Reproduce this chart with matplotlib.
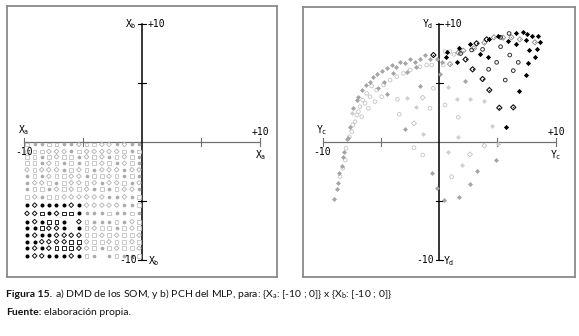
import matplotlib
matplotlib.use("Agg")
import matplotlib.pyplot as plt

# ---------------- Panel a) SOM lattice (Xa, Xb) ----------------
col_x = [-9.75, -9.1, -8.5, -7.9, -7.25, -6.6, -6.0, -5.35,
         -4.7, -4.05, -3.4, -2.8, -2.15, -1.5, -0.85, -0.25]
row_y = [-0.2, -0.8, -1.25, -1.8, -2.35, -2.9, -3.45, -4.0, -4.65,
         -5.35, -6.05, -6.75, -7.3, -7.9, -8.45, -9.0, -9.65]
# codes: o gray filled circle, s light open square, d gray open diamond,
#        B black filled circle, D black open diamond, S black open square, . none
lattice_rows = [
    "soossoodssddodoo",
    "sssdddosdddddsos",
    "ssosdssodsdosdso",
    "ssodsosossdsodso",
    "dsdddosdsodddodd",
    "osodssddossdsoso",
    "oddsosddsdoddsod",
    "ossodsdsdososddo",
    "sdossddddddoodos",
    "BDBBBBDBdddddoos",
    "DDSBDSSBooosooso",
    "BDBSSB.Dsooosods",
    "BBSDDB.Bsdssosds",
    "BDBBDDDDssdsdssd",
    "BBDDDDSSdssdssds",
    "BDBDSSSDdsosdssd",
    "BDDBBBDBso.osoos",
]

# ---------------- Panel b) MLP outputs (Yc, Yd) ----------------
k_x = [0.63, 0.54, 1.69, 1.49, 2.63, 3.49, 4.2, 4.3, 5.07, 5.93, 6.63, 7.2, 7.54, 8.0,
       8.5, 8.7, 8.37, 7.74, 6.63, 7.43, 8.22, 7.65, 7.45, 6.82, 5.73]
k_y = [7.6, 7.18, 8.0, 6.75, 8.28, 7.43, 7.18, 8.76, 8.98, 8.59, 9.27, 9.29, 9.15, 8.98,
       8.98, 8.45, 7.85, 7.8, 8.28, 8.64, 7.18, 6.67, 5.65, 4.32, 1.27]
kd_x = [-0.51, 2.86, 3.72, 4.3, 5.16, 6.36, 3.2, 4.07, 2.26]
kd_y = [7.37, 6.16, 5.34, 4.4, 2.9, 2.94, 8.36, 8.7, 7.0]
ko_x = [1.83, 2.78, 4.24, 4.93, 5.27, 5.27, 6.0, 5.67, 6.06, 6.79, 6.36, 3.72]
ko_y = [7.5, 7.8, 6.16, 6.75, 8.08, 8.87, 9.2, 5.25, 7.37, 6.75, 6.05, 7.85]
gd_x = [1.63, 0.92, 2.98, 4.7, 5.49, 6.2, 6.93, 8.22, 3.87, 2.06]
gd_y = [7.57, 6.6, 7.94, 8.87, 8.84, 8.87, 8.7, 8.45, 8.42, 7.74]
g_x = [-1.23, -0.8, -1.66, -2.09, -2.51, -2.95, -3.38, -3.72, -4.1, -4.53, -4.96, -5.33,
       -5.67, -5.96, -6.3, -6.68, -6.96, -7.1, -7.39, -7.68, -7.82, -4.73, -4.53, -5.24,
       -3.95, -2.8, -2.0, -0.23, 0.2,
       -1.66, 0.06, 2.2, 4.91, 3.2, 2.63, 1.69, 0.4, -0.23, -0.66, -2.95,
       -8.2, -8.25, -8.4, -8.6, -8.74, -8.77, -9.1, -7.9]
g_y = [7.37, 7.0, 7.03, 6.8, 7.0, 6.67, 6.8, 6.38, 6.53, 6.24, 6.05, 5.76,
       5.54, 5.11, 4.83, 4.4, 3.84, 3.56, 2.85, 1.3, 0.31, 5.11, 4.04, 4.55,
       5.82, 5.96, 6.38, 7.0, 6.8,
       4.75, 5.76, 5.17, -1.53, -2.43, -3.59, -4.69, -4.9, -3.87, -2.6, 1.07,
       -0.82, -1.24, -2.03, -2.66, -3.45, -4.0, -4.86, 0.23]
lo_x = [-0.51, 0.49, 1.63, -1.43, -2.18, 1.06, -3.6, -3.44, -0.8, 0.49, 0.92, 1.26,
        -5.82, -6.25, -6.59, -6.82, -7.1, -7.25, -7.45, -6.96, -6.39, -5.96, -5.39,
        -4.8, -4.23, -3.66, -3.09, -2.51, -1.66, -1.09, -0.66, 0.34,
        -8.02, -8.1, -8.3, -8.54, -7.74, -7.54, -6.1, -5.53, -4.96, -6.68]
lo_y = [4.55, 3.14, 2.1, -1.1, -0.48, -2.94, 3.62, 2.35, 2.85, 7.66, 7.66, 7.43,
        4.75, 4.12, 3.56, 3.0, 2.29, 1.72, 1.44, 2.57, 3.28, 3.84, 4.4,
        4.83, 5.25, 5.54, 5.82, 6.1, 6.38, 6.53, 6.53, 6.53,
        -0.54, -1.53, -2.23, -2.94, 0.45, 0.88, 2.85, 3.42, 3.84, 2.15]
lg_x = [-2.8, -2.03, -1.37, 0.77, 1.49, 2.63, 3.87, 4.56, 5.07, 0.72, 1.92, 1.63, -7.54]
lg_y = [3.76, 2.94, 0.65, 4.63, 3.64, 3.64, 3.47, 1.38, -0.17, -0.88, -1.95, 0.45, 2.43]
ld_x = [-1.43, 2.63, 3.87, -2.18]
ld_y = [3.76, -1.05, -0.31, 1.58]

# ---------------- Figure ----------------
fig = plt.figure(figsize=(5.79, 3.36), dpi=100)
fig.patch.set_facecolor("white")
axA = fig.add_axes([0.01157, 0.1756, 0.4668, 0.8065])
axB = fig.add_axes([0.5228, 0.1747, 0.4703, 0.8054])
axA.set_xlim(-11.47, 11.44)
axA.set_ylim(-11.44, 11.53)
axB.set_xlim(-11.75, 11.67)
axB.set_ylim(-11.47, 11.47)

for ax in (axA, axB):
    ax.set_xticks([])
    ax.set_yticks([])
    for sp in ax.spines.values():
        sp.set_color("#8a8a8a")
        sp.set_linewidth(1.3)
    ax.plot([-10, 10], [0, 0], color="#707070", lw=0.9, zorder=1)
    ax.plot([0, 0], [-10, 10], color="black", lw=1.1, zorder=1)
    for t in (-10, -5, 5, 10):
        ax.plot([t, t], [-0.3, 0.3], color="#707070", lw=0.8, zorder=1)
        ax.plot([-0.3, 0.3], [t, t], color="black", lw=0.8, zorder=1)

ms = 7
lattice_style = {
    "o": dict(marker="o", c="#ababab", s=ms, linewidths=0),
    "s": dict(marker="s", facecolors="none", edgecolors="#c2c2c2", s=ms, linewidths=0.6),
    "d": dict(marker="D", facecolors="none", edgecolors="#b0b0b0", s=ms * 0.8, linewidths=0.6),
    "B": dict(marker="o", c="black", s=ms * 1.2, linewidths=0),
    "D": dict(marker="D", facecolors="none", edgecolors="#111111", s=ms * 0.8, linewidths=0.7),
    "S": dict(marker="s", facecolors="none", edgecolors="#222222", s=ms, linewidths=0.7),
}
for code, style in lattice_style.items():
    xs, ys = [], []
    for r, row in enumerate(lattice_rows):
        for c, ch in enumerate(row):
            if ch == code:
                xs.append(col_x[c])
                ys.append(row_y[r])
    axA.scatter(xs, ys, zorder=3, **style)

axB.scatter(lo_x, lo_y, marker="o", facecolors="none", edgecolors="#c4c4c4", s=ms, linewidths=0.6, zorder=3)
axB.scatter(lg_x, lg_y, marker="D", c="#d0d0d0", s=ms * 0.9, linewidths=0, zorder=3)
axB.scatter(ld_x, ld_y, marker="D", facecolors="none", edgecolors="#c0c0c0", s=ms * 0.9, linewidths=0.6, zorder=3)
axB.scatter(g_x, g_y, marker="D", c="#a4a4a4", s=ms * 0.9, linewidths=0, zorder=3)
axB.scatter(gd_x, gd_y, marker="D", facecolors="none", edgecolors="#989898", s=ms, linewidths=0.7, zorder=3)
axB.scatter(gd_x, gd_y, marker="o", c="#989898", s=0.8, linewidths=0, zorder=3)
axB.scatter(ko_x, ko_y, marker="o", facecolors="none", edgecolors="#333333", s=ms, linewidths=0.7, zorder=3)
axB.scatter(kd_x, kd_y, marker="D", facecolors="none", edgecolors="#111111", s=ms, linewidths=0.8, zorder=3)
axB.scatter(kd_x, kd_y, marker="o", c="#111111", s=0.8, linewidths=0, zorder=3)
axB.scatter(k_x, k_y, marker="D", c="black", s=ms, linewidths=0, zorder=3)

lab = dict(fontsize=7, family="DejaVu Sans Mono", color="black")

# panel a labels
axA.text(-10.5, 0.45, "X$_\\mathregular{a}$", ha="left", va="bottom", **lab)
axA.text(10.0, 0.45, "+10", ha="center", va="bottom", **lab)
axA.text(-10.0, -0.45, "-10", ha="center", va="top", **lab)
axA.text(10.1, -0.5, "X$_\\mathregular{a}$", ha="center", va="top", **lab)
axA.text(-0.45, 10.0, "X$_\\mathregular{b}$", ha="right", va="center", **lab)
axA.text(0.45, 10.0, "+10", ha="left", va="center", **lab)
axA.text(-0.45, -10.0, "-10", ha="right", va="center", **lab)
axA.text(0.5, -10.1, "X$_\\mathregular{b}$", ha="left", va="center", **lab)
# panel b labels
axB.text(-10.6, 0.45, "Y$_\\mathregular{c}$", ha="left", va="bottom", **lab)
axB.text(10.1, 0.45, "+10", ha="center", va="bottom", **lab)
axB.text(-10.1, -0.45, "-10", ha="center", va="top", **lab)
axB.text(10.0, -0.5, "Y$_\\mathregular{c}$", ha="center", va="top", **lab)
axB.text(-0.5, 10.0, "Y$_\\mathregular{d}$", ha="right", va="center", **lab)
axB.text(0.45, 10.0, "+10", ha="left", va="center", **lab)
axB.text(-0.5, -10.0, "-10", ha="right", va="center", **lab)
axB.text(0.35, -10.1, "Y$_\\mathregular{d}$", ha="left", va="center", **lab)

# caption
cap = dict(fontsize=7.5, family="Lato", color="#111111")
t1 = fig.text(6 / 579, 1 - 297 / 336, "Figura 15.", fontweight="bold", ha="left", va="baseline", **cap)
fig.canvas.draw()
r = fig.canvas.get_renderer()
bb = t1.get_window_extent(r)
x2 = bb.x1 / fig.bbox.width + 3 / 579
fig.text(x2, 1 - 297 / 336,
         "a) DMD de los SOM, y b) PCH del MLP, para: {X$_\\mathregular{a}$: [-10 ; 0]} x {X$_\\mathregular{b}$: [-10 ; 0]}",
         ha="left", va="baseline", **cap)
t3 = fig.text(6 / 579, 1 - 315 / 336, "Fuente:", fontweight="bold", ha="left", va="baseline", **cap)
fig.canvas.draw()
bb3 = t3.get_window_extent(r)
fig.text(bb3.x1 / fig.bbox.width + 2.5 / 579, 1 - 315 / 336, "elaboración propia.",
         ha="left", va="baseline", **cap)

fig.savefig("out.png", dpi=100, facecolor="white")
